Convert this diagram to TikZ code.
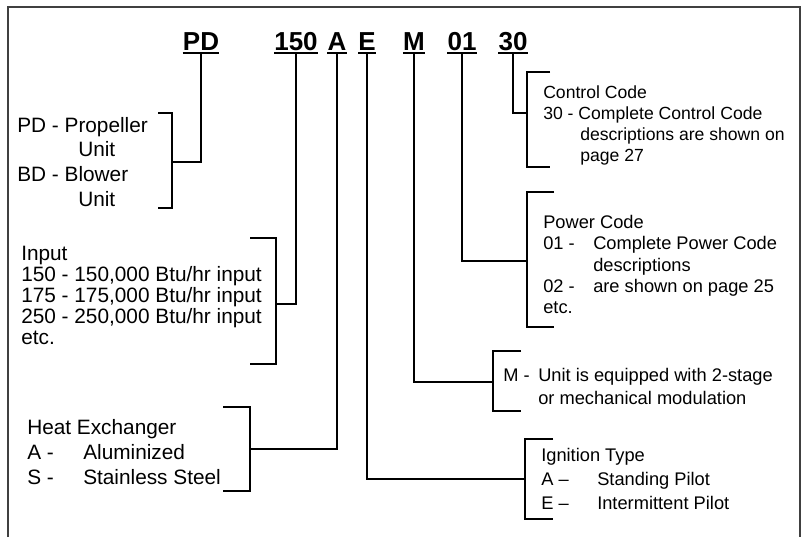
\documentclass[tikz,border=0pt]{standalone}
\usepackage{fontspec}
\setmainfont{Liberation Sans}
\usetikzlibrary{calc}

\newcommand{\colbox}[2]{\makebox[#1][l]{#2}}

\begin{document}
\begin{tikzpicture}[
  x=0.75pt, y=-0.75pt,
  code/.style={font=\fontsize{19.5}{19.5}\selectfont\bfseries, inner sep=0pt,
               text depth=2.2pt, anchor=base},
  desc/.style={inner sep=0pt, anchor=base west, align=left},
  link/.style={line width=1.6pt},
  uline/.style={line width=1.4pt},
  frame/.style={line width=0.8pt, black!75}
]
  \useasboundingbox (0,0) rectangle (806,537);
  \draw[frame] (8,537) |- (800,7) -- (800,537);

  % model number
  \node[code] (pd)  at (201,50) {PD};
  \node[code] (inp) at (296,50) {150};
  \node[code] (hx)  at (337,50) {A};
  \node[code] (ign) at (367,50) {E};
  \node[code] (mod) at (414,50) {M};
  \node[code] (pwr) at (462,50) {01};
  \node[code] (ctl) at (513,50) {30};
  \foreach \n in {pd,inp,hx,ign,mod,pwr,ctl}
    \draw[uline] (\n.south west) -- (\n.south east);

  % left side (placed by the baseline of the last line)
  \node[desc, font=\fontsize{15.6}{18.4}\selectfont] (pdtxt) at (17,206)
    {PD - Propeller\\\colbox{45.75pt}{}Unit\\BD - Blower\\\colbox{45.75pt}{}Unit};
  \node[desc, font=\fontsize{15.6}{15.75}\selectfont] (inptxt) at (21,344.5)
    {Input\\150 - 150,000 Btu/hr input\\175 - 175,000 Btu/hr input\\
     250 - 250,000 Btu/hr input\\etc.};
  \node[desc, font=\fontsize{15.6}{18.75}\selectfont] (hxtxt) at (27,484.5)
    {Heat Exchanger\\\colbox{42pt}{A -}Aluminized\\\colbox{42pt}{S -}Stainless Steel};

  % right side
  \node[desc, font=\fontsize{13.2}{15.75}\selectfont] (ctltxt) at (543,161.5)
    {Control Code\\30 - Complete Control Code\\
     \colbox{27.75pt}{}descriptions are shown on\\\colbox{27.75pt}{}page 27};
  \node[desc, font=\fontsize{13.7}{15.9}\selectfont] (pwrtxt) at (543,313.5)
    {Power Code\\\colbox{37.5pt}{01 -}Complete Power Code\\
     \colbox{37.5pt}{}descriptions\\\colbox{37.5pt}{02 -}are shown on page 25\\etc.};
  \node[desc, font=\fontsize{13.7}{17.25}\selectfont] (modtxt) at (503,404.5)
    {\colbox{26.25pt}{M -}Unit is equipped with 2-stage\\
     \colbox{26.25pt}{}or mechanical modulation};
  \node[desc, font=\fontsize{13.7}{18}\selectfont] (igntxt) at (541,509.5)
    {Ignition Type\\\colbox{42pt}{A --}Standing Pilot\\\colbox{42pt}{E --}Intermittent Pilot};

  % brackets
  \coordinate (pdbr)  at (172,162);
  \coordinate (inpbr) at (276,304);
  \coordinate (hxbr)  at (250,449);
  \coordinate (ignbr) at (525,479);
  \coordinate (modbr) at (493,382);
  \coordinate (pwrbr) at (527,261);
  \coordinate (ctlbr) at (527,113);

  \draw[link] (pd.south)  |- (pdbr);
  \draw[link] (inp.south) |- (inpbr);
  \draw[link] (hx.south)  |- (hxbr);
  \draw[link] (ign.south) |- (ignbr);
  \draw[link] (mod.south) |- (modbr);
  \draw[link] (pwr.south) |- (pwrbr);
  \draw[link] (ctl.south) |- (ctlbr);

  \draw[link] (158,113) -| (pdbr)  |- (158,208);
  \draw[link] (250,238) -| (inpbr) |- (250,364);
  \draw[link] (223,407) -| (hxbr)  |- (223,491);
  \draw[link] (553,439) -| (ignbr) |- (553,519);
  \draw[link] (521,351) -| (modbr) |- (521,411);
  \draw[link] (554,192) -| (pwrbr) |- (554,327);
  \draw[link] (550,72)  -| (ctlbr) |- (550,167);
\end{tikzpicture}
\end{document}
